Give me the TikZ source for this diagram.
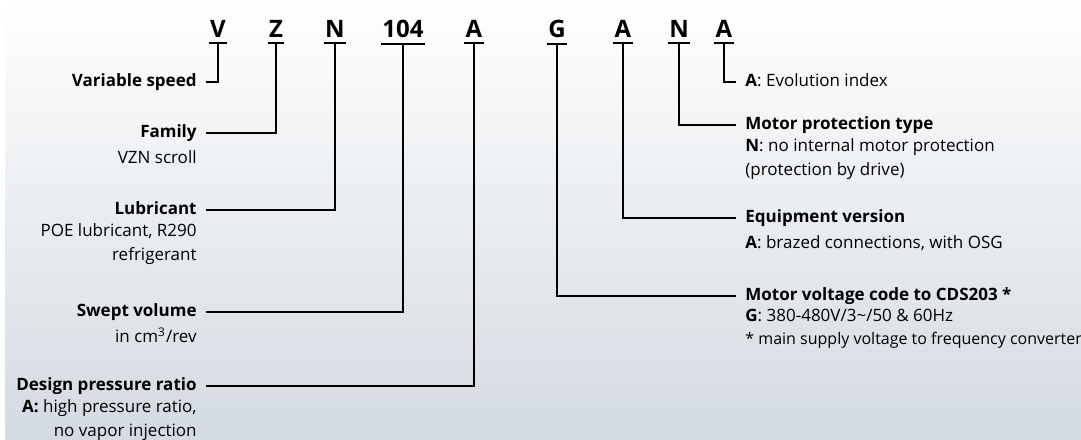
\documentclass[tikz,border=0pt]{standalone}
\usepackage{fontspec}
\setmainfont{Open Sans}
\usetikzlibrary{positioning}
\definecolor{bgbot}{RGB}{211,218,225}

\tikzset{
  codeltr/.style={font=\bfseries\fontsize{12}{14}\selectfont, inner xsep=0.5pt, inner ysep=3pt, anchor=base},
  labtxt/.style={font=\fontsize{8.5}{11.75}\selectfont, inner sep=0pt, text height=5pt, text depth=0.5pt},
  headtxt/.style={labtxt, font=\bfseries\fontsize{8.5}{11.75}\selectfont},
  desctxt/.style={font=\fontsize{8.5}{11.75}\selectfont, inner sep=0pt, execute at begin node=\strut},
  leader/.style={line width=1pt, shorten >=4.5pt},
  uline/.style={line width=1pt}
}

\begin{document}
\begin{tikzpicture}[x=0.5pt, y=-0.5pt] % one unit = one pixel of the sheet

    % Sheet
    \useasboundingbox (0,0) rectangle (1081,439);
    \fill[white] (0,0) rectangle (1081,439);
    \shade[top color=white, bottom color=bgbot] (5,0) rectangle (1081,439);

    % Code letters
    \node[codeltr] (cV)   at (218,37) {V};
    \node[codeltr] (cZ)   at (276,37) {Z};
    \node[codeltr] (cN)   at (335,37) {N};
    \node[codeltr] (c104) at (403,37) {104};
    \node[codeltr] (cA)   at (474,37) {A};
    \node[codeltr] (cG)   at (557,37) {G};
    \node[codeltr] (cA2)  at (623,37) {A};
    \node[codeltr] (cN2)  at (679,37) {N};
    \node[codeltr] (cA3)  at (724,37) {A};
    \foreach \c in {cV,cZ,cN,c104,cA,cG,cA2,cN2,cA3}
        \draw[uline] (\c.south west) -- (\c.south east);

    % Left labels
    \node[headtxt, anchor=east] (tVar) at (197,82) {Variable speed};
    \node[headtxt, anchor=east] (tFam) at (197,133) {Family};
    \node[desctxt, align=right, below left=3.8pt and 0pt of tFam.south east] (dFam) {VZN scroll};
    \node[headtxt, anchor=east] (tLub) at (197,210) {Lubricant};
    \node[desctxt, align=right, below left=3.8pt and 0pt of tLub.south east] (dLub) {POE lubricant, R290\\refrigerant};
    \node[headtxt, anchor=east] (tSwept) at (197,312) {Swept volume};
    \node[desctxt, align=right, below left=3.8pt and 0pt of tSwept.south east] (dSwept) {in cm\textsuperscript{3}/rev};
    \node[headtxt, anchor=east] (tDes) at (197,386) {Design pressure ratio};
    \node[desctxt, align=right, below left=3.8pt and 0pt of tDes.south east] (dDes) {\textbf{A:} high pressure ratio,\\no vapor injection};

    % Right labels
    \node[labtxt, anchor=west] (tEvol) at (745,82) {\textbf{A}: Evolution index};
    \node[headtxt, anchor=west] (tMot) at (745,125) {Motor protection type};
    \node[desctxt, align=left, below right=3.8pt and 0pt of tMot.south west] (dMot) {\textbf{N}: no internal motor protection\\(protection by drive)};
    \node[headtxt, anchor=west] (tEquip) at (745,218) {Equipment version};
    \node[desctxt, align=left, below right=3.8pt and 0pt of tEquip.south west] (dEquip) {\textbf{A}: brazed connections, with OSG};
    \node[headtxt, anchor=west] (tVolt) at (745,296) {Motor voltage code to CDS203 *};
    \node[desctxt, align=left, below right=3.2pt and 0pt of tVolt.south west] (dVolt) {\textbf{G}: 380-480V/3\textasciitilde/50 \& 60Hz\\{\fontsize{8}{11.25}\selectfont * main supply voltage to frequency converter}};

    % Leaders
    \draw[leader] (cV.south) |- (tVar.east);
    \draw[leader] (cZ.south) |- (tFam.east);
    \draw[leader] (cN.south) |- (tLub.east);
    \draw[leader] (c104.south) |- (tSwept.east);
    \draw[leader] (cA.south) |- (tDes.east);
    \draw[leader] (cG.south) |- (tVolt.west);
    \draw[leader] (cA2.south) |- (tEquip.west);
    \draw[leader] (cN2.south) |- (tMot.west);
    \draw[leader] (cA3.south) |- (tEvol.west);

\end{tikzpicture}
\end{document}
